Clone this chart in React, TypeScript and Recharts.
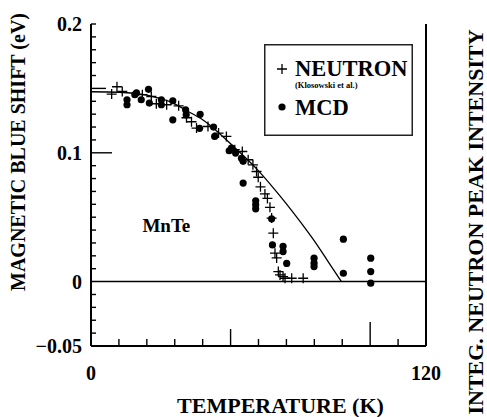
import {
  ComposedChart,
  XAxis,
  YAxis,
  Line,
  Scatter,
  ReferenceLine,
  ReferenceDot,
  Legend,
} from "recharts";

const FONT = '"Liberation Serif", "Times New Roman", serif';

// neutron scattering points (Klosowski et al.)
const neutronT = [
  7.4, 9.3, 11.2, 18.4, 21.6, 23.4, 27.1, 31.4, 34.2, 36.0, 37.8, 41.9, 45.7,
  48.5, 51.5, 54.2, 56.3, 58.0, 59.3, 59.9, 60.7, 62.3, 63.2, 64.1, 64.7, 65.3,
  65.9, 66.5, 67.1, 67.7, 68.8, 69.5, 71.9, 76.0,
];
const neutronShift = [
  0.1456, 0.1513, 0.1476, 0.1451, 0.1437, 0.1381, 0.1373, 0.1365, 0.1272,
  0.1241, 0.1192, 0.1204, 0.1153, 0.1127, 0.1024, 0.101, 0.0946, 0.0907,
  0.0855, 0.081, 0.0736, 0.0681, 0.0646, 0.0577, 0.0493, 0.0376, 0.0221,
  0.0184, 0.0078, 0.0052, 0.0039, 0.0026, 0.0026, 0.0026,
];

// MCD blue shift points
const mcdT = [
  12.9, 12.9, 15.7, 16.3, 18.0, 20.6, 20.9, 25.2, 25.2, 29.3, 29.3, 33.9, 34.1,
  39.1, 38.9, 43.9, 44.3, 49.5, 50.3, 51.8, 53.9, 54.5, 54.5, 59.0, 59.0, 59.0,
  64.7, 65.0, 68.8, 68.8, 70.1, 79.9, 79.9, 79.9, 90.4, 90.4, 100.2, 100.2,
  100.2,
];
const mcdShift = [
  0.1412, 0.1373, 0.1451, 0.1466, 0.1412, 0.1493, 0.1386, 0.1412, 0.1373,
  0.1404, 0.1256, 0.1334, 0.1295, 0.1299, 0.119, 0.12, 0.1127, 0.1016, 0.1037,
  0.0998, 0.0957, 0.0934, 0.0765, 0.0627, 0.0596, 0.0565, 0.0487, 0.0285,
  0.0274, 0.0233, 0.0141, 0.0182, 0.0143, 0.0117, 0.0329, 0.0065, 0.0182,
  0.0078, -0.0012,
];

// fitted curve
const curveT = [0, 10, 20, 30, 35, 40, 45, 50, 55, 60, 65, 70, 75, 80, 85, 89.7];
const curveShift = [
  0.1474, 0.147, 0.1447, 0.138, 0.1319, 0.1256, 0.117, 0.107, 0.0969, 0.086,
  0.0736, 0.0604, 0.0464, 0.0316, 0.0153, 0,
];

const xTicks = [0, 10, 20, 30, 40, 50, 60, 70, 80, 90, 100, 110, 120];
const xLabels = [
  { value: 0, text: "0" },
  { value: 120, text: "120" },
];
// minor ticks every 0.01 eV
const yTicks = Array.from({ length: 26 }, (_, i) => (i - 5) / 100);
const yLabels = [
  { value: -0.05, text: "\u22120.05" },
  { value: 0, text: "0" },
  { value: 0.1, text: "0.1" },
  { value: 0.2, text: "0.2" },
];

const neutronData = neutronT.map((t, i) => ({ t, v: neutronShift[i] }));
const mcdData = mcdT.map((t, i) => ({ t, v: mcdShift[i] }));
const curveData = curveT.map((t, i) => ({ t, v: curveShift[i] }));

const near = (a: number, b: number) => Math.abs(a - b) < 1e-6;

const labelStyle = {
  fontFamily: FONT,
  fontWeight: 700,
  fontSize: 20,
  fill: "#000",
};

function LeftTick({ x, y, payload }: any) {
  const v = payload.value;
  const len = near(v, 0.1) ? 21 : near(v, 0.15) ? 15 : near(v, 0) ? 0 : 5;
  const label = yLabels.find((l) => near(l.value, v));
  return (
    <g>
      {len > 0 && (
        <line x1={x} x2={x + len} y1={y} y2={y} stroke="#000" strokeWidth={1.4} />
      )}
      {label && (
        <text x={x - 9} y={y} textAnchor="end" dominantBaseline="central" {...labelStyle}>
          {label.text}
        </text>
      )}
    </g>
  );
}

function RightTick({ x, y, payload }: any) {
  return (
    <text x={x + 7} y={y} textAnchor="start" dominantBaseline="central" {...labelStyle}>
      {payload.value === 0 ? "0" : ""}
    </text>
  );
}

function BottomTick({ x, y, payload }: any) {
  const v = payload.value;
  const len = v === 100 ? 24 : v === 50 ? 17 : v === 0 || v === 120 ? 0 : 7;
  const label = xLabels.find((l) => l.value === v);
  return (
    <g>
      {len > 0 && (
        <line x1={x} x2={x} y1={y} y2={y - len} stroke="#000" strokeWidth={1.4} />
      )}
      {label && (
        <text x={x} y={y + 27} textAnchor="middle" dominantBaseline="central" {...labelStyle}>
          {label.text}
        </text>
      )}
    </g>
  );
}

// axis title placed relative to the axis box; Label passes its own
// angle/offset props, so the rotation lives under a different name
function AxisTitle({ viewBox, title, shiftX = 0, shiftY = 0, turn = 0, size = 20 }: any) {
  const cx = viewBox.x + viewBox.width / 2 + shiftX;
  const cy = viewBox.y + viewBox.height / 2 + shiftY;
  return (
    <text
      x={cx}
      y={cy}
      transform={`rotate(${turn} ${cx} ${cy})`}
      textAnchor="middle"
      dominantBaseline="central"
      fontFamily={FONT}
      fontWeight={700}
      fontSize={size}
      fill="#000"
    >
      {title}
    </text>
  );
}

const PlusMark = ({ cx, cy }: any) => (
  <path
    d={`M${cx - 5},${cy}H${cx + 5}M${cx},${cy - 5}V${cy + 5}`}
    stroke="#000"
    strokeWidth={1.3}
    fill="none"
  />
);

const DotMark = ({ cx, cy }: any) => <circle cx={cx} cy={cy} r={3.6} fill="#000" />;

function LegendBox() {
  return (
    <svg width={149} height={92} style={{ display: "block" }}>
      <rect x={0.75} y={0.75} width={147.5} height={90.5} fill="#fff" stroke="#222" strokeWidth={1.5} />
      <PlusMark cx={18} cy={25} />
      <text x={31} y={31.5} fontFamily={FONT} fontWeight={700} fontSize={22.5}>
        NEUTRON
      </text>
      <text x={31} y={44} fontFamily={FONT} fontWeight={700} fontSize={8.5}>
        (Klosowski et al.)
      </text>
      <DotMark cx={18} cy={63} />
      <text x={31} y={71} fontFamily={FONT} fontWeight={700} fontSize={22.5}>
        MCD
      </text>
    </svg>
  );
}

export default function App() {
  return (
    <div style={{ position: "absolute", left: 0, top: 0, background: "#fff" }}>
      <ComposedChart
        width={487}
        height={417}
        margin={{ top: 24, right: 21, bottom: 21, left: 31 }}
        style={{ fontFamily: FONT }}
      >
        <XAxis
          dataKey="t"
          type="number"
          domain={[0, 120]}
          ticks={xTicks}
          interval={0}
          height={50}
          tickSize={0}
          tickMargin={0}
          tickLine={false}
          axisLine={{ stroke: "#000", strokeWidth: 2 }}
          tick={<BottomTick />}
          label={<AxisTitle title="TEMPERATURE (K)" shiftX={22} shiftY={34} size={22} />}
        />
        <YAxis
          type="number"
          domain={[-0.05, 0.2]}
          ticks={yTicks}
          interval={0}
          width={60}
          tickSize={0}
          tickMargin={0}
          tickLine={false}
          axisLine={{ stroke: "#000", strokeWidth: 2 }}
          tick={<LeftTick />}
          allowDataOverflow
          label={<AxisTitle title="MAGNETIC BLUE SHIFT (eV)" shiftX={-43} shiftY={-33} turn={-90} size={20} />}
        />
        <YAxis
          yAxisId="right"
          orientation="right"
          type="number"
          domain={[-0.05, 0.2]}
          ticks={[0]}
          width={40}
          tickSize={0}
          tickMargin={0}
          tickLine={false}
          axisLine={{ stroke: "#000", strokeWidth: 2 }}
          tick={<RightTick />}
          label={<AxisTitle title="INTEG. NEUTRON PEAK INTENSITY" shiftX={29} shiftY={37} turn={-90} size={22} />}
        />
        <ReferenceLine y={0} stroke="#000" strokeWidth={1.5} />
        <ReferenceDot
          x={27}
          y={0.044}
          r={0}
          stroke="none"
          label={{ value: "MnTe", position: "center", fill: "#000", fontSize: 19, fontWeight: 700, fontFamily: FONT }}
        />
        <Line
          data={curveData}
          dataKey="v"
          type="monotone"
          stroke="#000"
          strokeWidth={1.3}
          dot={false}
          activeDot={false}
          isAnimationActive={false}
        />
        <Scatter
          data={neutronData}
          dataKey="v"
          shape={(p: any) => <PlusMark {...p} />}
          isAnimationActive={false}
        />
        <Scatter
          data={mcdData}
          dataKey="v"
          shape={(p: any) => <DotMark {...p} />}
          isAnimationActive={false}
        />
        <Legend
          layout="vertical"
          align="center"
          verticalAlign="middle"
          wrapperStyle={{ left: 264, top: 44, width: 149, height: 92 }}
          content={() => <LegendBox />}
        />
      </ComposedChart>
    </div>
  );
}
